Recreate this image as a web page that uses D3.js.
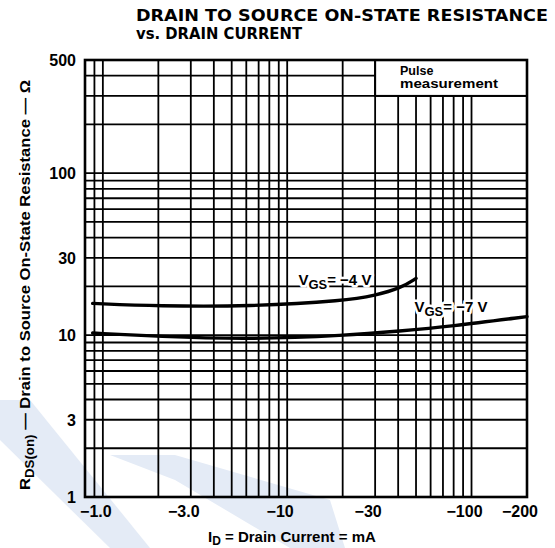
<!DOCTYPE html>
<html lang="en">
<head>
<meta charset="utf-8">
<title>Drain to Source On-State Resistance vs. Drain Current</title>
<style>
  body { margin: 0; background: #fff; }
  svg { display: block; font-family: "Liberation Sans", Arial, sans-serif; }
  .grid line { stroke: #000; stroke-width: 1.8; }
  .frame { fill: none; stroke: #000; stroke-width: 2.6; }
  .curve { fill: none; stroke: #000; stroke-width: 3.4; stroke-linecap: round; }
  .tick-label { font-size: 16px; fill: #000; }
  .halo { paint-order: stroke; stroke: #fff; stroke-width: 5px; stroke-linejoin: round; }
</style>
</head>
<body>
<svg id="chart" width="555" height="548"></svg>
<script src="https://cdn.jsdelivr.net/npm/d3@7/dist/d3.min.js"></script>
<script>

// grid lines (drain current in mA, absolute value; resistance in ohms)
var xGridValues = [0.9, 1, 2, 3, 4, 5, 6, 7, 8, 9, 10, 20, 30, 40, 50, 60, 70, 80, 90, 100];
var yGridValues = [2, 3, 4, 5, 6, 7, 8, 9, 10, 20, 30, 40, 50, 60, 70, 80, 90, 100, 200, 300, 400];

// tick labels
var xTickValues = [1, 3, 10, 30, 100, 200];
var xTickLabels = ["\u22121.0", "\u22123.0", "\u221210", "\u221230", "\u2212100", "\u2212200"];
var yTickValues = [1, 3, 10, 30, 100, 500];
var yTickLabels = ["1", "3", "10", "30", "100", "500"];

// curves
var vgs4Current    = [0.88, 2, 6.2, 21, 30, 41, 50];
var vgs4Resistance = [15.7, 15.1, 15.0, 16.3, 17.6, 19.4, 22.4];
var vgs7Current    = [0.88, 2, 6.2, 21, 41, 76, 200];
var vgs7Resistance = [10.3, 9.8, 9.4, 9.95, 10.6, 11.3, 13.0];

var svg = d3.select("svg#chart"),
    plot = {left: 85, right: 527, top: 60, bottom: 497};

var xScale = d3.scaleLog().domain([0.8, 200]).range([plot.left, plot.right]),
    yScale = d3.scaleLog().domain([1, 500]).range([plot.bottom, plot.top]);

// faint watermark bands behind everything
var wm = svg.append("g").attr("fill", "#e4ebf6");
wm.append("polygon").attr("points", "0,400 30,400 150,548 110,548 0,440");
wm.append("polygon").attr("points", "110,455 175,455 330,500 345,548 290,548 175,480");

// title
svg.append("text")
    .attr("x", 136).attr("y", 21)
    .attr("textLength", 412).attr("lengthAdjust", "spacingAndGlyphs")
    .style("font", "bold 15px 'DejaVu Sans', sans-serif")
    .text("DRAIN TO SOURCE ON-STATE RESISTANCE");
svg.append("text")
    .attr("x", 136).attr("y", 39)
    .attr("textLength", 166).attr("lengthAdjust", "spacingAndGlyphs")
    .style("font", "bold 15px 'DejaVu Sans', sans-serif")
    .text("vs. DRAIN CURRENT");

// grid
var grid = svg.append("g").attr("class", "grid");
grid.selectAll(".gx").data(xGridValues).enter().append("line")
    .attr("x1", function(d) { return xScale(d); })
    .attr("x2", function(d) { return xScale(d); })
    .attr("y1", plot.top).attr("y2", plot.bottom);
grid.selectAll(".gy").data(yGridValues).enter().append("line")
    .attr("y1", function(d) { return yScale(d); })
    .attr("y2", function(d) { return yScale(d); })
    .attr("x1", plot.left).attr("x2", plot.right);

// pulse measurement box
svg.append("rect")
    .attr("x", xScale(30)).attr("y", plot.top)
    .attr("width", plot.right - xScale(30))
    .attr("height", yScale(300) - plot.top)
    .attr("fill", "#fff").attr("stroke", "#000").attr("stroke-width", 2);
svg.append("text")
    .attr("x", 400).attr("y", 75)
    .style("font", "bold 12.5px 'Liberation Sans', sans-serif")
    .text("Pulse");
svg.append("text")
    .attr("x", 400).attr("y", 88)
    .attr("textLength", 98).attr("lengthAdjust", "spacingAndGlyphs")
    .style("font", "bold 12.5px 'Liberation Sans', sans-serif")
    .text("measurement");

svg.append("rect").attr("class", "frame")
    .attr("x", plot.left).attr("y", plot.top)
    .attr("width", plot.right - plot.left).attr("height", plot.bottom - plot.top);

// curves
var line = d3.line()
    .curve(d3.curveBasis)
    .x(function(d) { return xScale(d[0]); })
    .y(function(d) { return yScale(d[1]); });

svg.append("path").attr("class", "curve")
    .attr("d", line(d3.zip(vgs4Current, vgs4Resistance)));
svg.append("path").attr("class", "curve")
    .attr("d", line(d3.zip(vgs7Current, vgs7Resistance)));

// curve labels
function vgsLabel(xv, yv, value) {
  var t = svg.append("text").attr("class", "halo")
      .attr("x", xScale(xv)).attr("y", yScale(yv))
      .style("font", "bold 15px 'Liberation Sans', sans-serif");
  t.append("tspan").text("V");
  t.append("tspan").attr("dy", 4).style("font-size", "13px").text("GS");
  t.append("tspan").attr("dy", -4).text("= \u2212" + value + " V");
}
vgsLabel(11.5, 20.3, 4);
vgsLabel(49, 13.8, 7);

// tick labels
svg.append("g").selectAll("text").data(xTickValues).enter().append("text")
    .attr("class", "tick-label")
    .attr("x", function(d) { return xScale(d) - 7; })
    .attr("y", 517)
    .attr("text-anchor", "middle")
    .style("font-weight", "bold")
    .text(function(d, i) { return xTickLabels[i]; });

svg.append("g").selectAll("text").data(yTickValues).enter().append("text")
    .attr("class", "tick-label")
    .attr("x", 76)
    .attr("y", function(d) { return yScale(d); })
    .attr("dy", "0.36em")
    .attr("text-anchor", "end")
    .style("font-weight", "bold")
    .text(function(d, i) { return yTickLabels[i]; });

// y axis title
var yt = svg.append("text")
    .attr("transform", "translate(30,285) rotate(-90)")
    .attr("text-anchor", "middle")
    .attr("textLength", 410).attr("lengthAdjust", "spacingAndGlyphs")
    .style("font", "bold 15px 'Liberation Sans', sans-serif");
yt.append("tspan").text("R");
yt.append("tspan").attr("dy", 4).style("font-size", "12px").text("DS(on)");
yt.append("tspan").attr("dy", -4).text(" \u2014 Drain to Source On-State Resistance \u2014 \u03a9");

// x axis title
var xt = svg.append("text")
    .attr("x", 208).attr("y", 542)
    .style("font", "bold 15px 'Liberation Sans', sans-serif");
xt.append("tspan").text("I");
xt.append("tspan").attr("dy", 3).style("font-size", "12px").text("D");
xt.append("tspan").attr("dy", -3).text(" = Drain Current = mA");

</script>
</body>
</html>
